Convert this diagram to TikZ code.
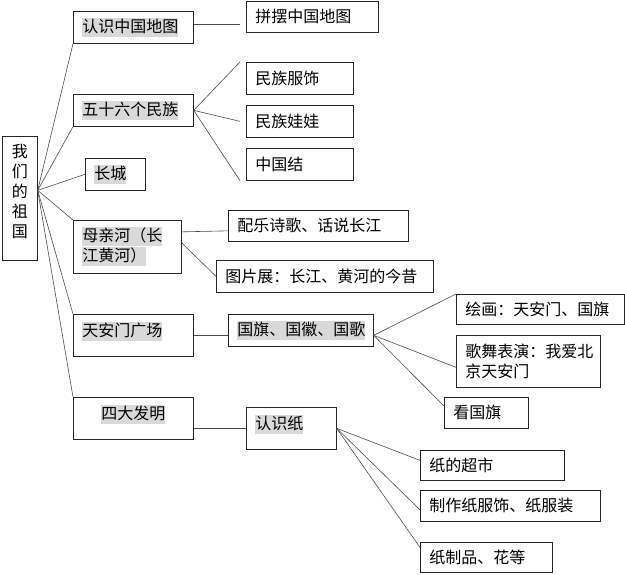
\documentclass[tikz,border=0pt]{standalone}
\usepackage{fontspec}
\setmainfont{Noto Sans CJK SC}
\definecolor{hlgray}{RGB}{217,217,217}
\newcommand{\hl}[1]{{\setlength{\fboxsep}{0pt}\colorbox{hlgray}{\rule[-4.5pt]{0pt}{19pt}#1}}}
\begin{document}
\begin{tikzpicture}[x=1pt,y=-1pt,
  font=\fontsize{16}{20}\selectfont,
  box/.style={draw=black!85,line width=.7pt,anchor=north west,align=left,
    inner xsep=9pt,inner ysep=0pt},
  link/.style={draw=black!70,line width=.6pt}]
  \useasboundingbox (0,0) rectangle (625,575);

  \node[box,align=center,inner xsep=0pt,text width=35pt,minimum height=124pt,text depth=96pt] (root) at (2,136) {我\\们\\的\\祖\\国};

  \node[box,text width=102pt,minimum height=32pt] (l1map) at (73,11) {\hl{认识中国地图}};
  \node[box,text width=102pt,minimum height=32pt] (l1mz) at (73,94) {\hl{五十六个民族}};
  \node[box,text width=42pt,minimum height=32pt] (l1cc) at (85,158) {\hl{长城}};
  \node[box,text width=90pt,minimum height=53pt] (l1mq) at (73,220) {\hl{母亲河（长}\\\hl{江黄河）}};
  \node[box,text width=102pt,minimum height=42pt,text depth=12pt] (l1tam) at (73,314) {\hl{天安门广场}};
  \node[box,align=center,text width=102pt,minimum height=42pt,text depth=12pt] (l1sd) at (73,397) {\hl{四大发明}};

  \node[box,text width=114pt,minimum height=31pt] (l2map) at (246,1) {拼摆中国地图};
  \node[box,text width=89pt,minimum height=32pt] (l2fs) at (246,62) {民族服饰};
  \node[box,text width=89pt,minimum height=32pt] (l2ww) at (246,105) {民族娃娃};
  \node[box,text width=89pt,minimum height=32pt] (l2zgj) at (246,148) {中国结};
  \node[box,text width=162pt,minimum height=31pt] (l2pl) at (228,210) {配乐诗歌、话说长江};
  \node[box,text width=199pt,minimum height=32pt] (l2tp) at (216,260) {图片展：长江、黄河的今昔};
  \node[box,text width=127pt,minimum height=32pt] (l2gq) at (228,314) {\hl{国旗、国徽、国歌}};
  \node[box,text width=72pt,minimum height=42pt,text depth=12pt] (l2rsz) at (246,407) {\hl{认识纸}};

  \node[box,text width=150pt,minimum height=30pt] (l3hh) at (456,294) {绘画：天安门、国旗};
  \node[box,text width=126pt,minimum height=52pt] (l3gw) at (456,335) {歌舞表演：我爱北\\京天安门};
  \node[box,text width=66pt,minimum height=31pt] (l3kgq) at (444,397) {看国旗};
  \node[box,text width=126pt,minimum height=30pt] (l3cs) at (420,450) {纸的超市};
  \node[box,text width=162pt,minimum height=31pt] (l3zz) at (420,490) {制作纸服饰、纸服装};
  \node[box,text width=114pt,minimum height=30pt] (l3zp) at (420,542) {纸制品、花等};

  \coordinate (hub) at ([yshift=8pt]root.east);
  \foreach \n/\a in {l1map/south west,l1mz/south west,l1cc/west,l1mq/north west,l1tam/north west,l1sd/north west}
    \draw[link] (hub) -- (\n.\a);

  \draw[link] ([yshift=3pt]l1map.east) -- ([xshift=-6pt,yshift=-7.5pt]l2map.west);
  \foreach \n/\a in {l2fs/north west,l2ww/west,l2zgj/south west}
    \draw[link] (l1mz.east) -- ([xshift=-6pt]\n.\a);

  \draw[link] ([yshift=15pt]l1mq.east) -- ([yshift=-5pt]l2pl.west);
  \draw[link] ([yshift=4pt]l1mq.east) -- (l2tp.west);

  \draw[link] (l1tam.east) -- ([yshift=-5pt]l2gq.west);
  \coordinate (gq) at ([yshift=-5pt]l2gq.east);
  \draw[link] (gq) -- (l3hh.north west);
  \draw[link] (gq) -- ([yshift=-6pt]l3gw.west);
  \draw[link] (gq) -- ([yshift=-9pt]l3kgq.north west);

  \draw[link] ([yshift=-10pt]l1sd.east) -- (l2rsz.west);
  \foreach \n/\s in {l3cs/5pt,l3zz/-4pt,l3zp/10pt}
    \draw[link] (l2rsz.east) -- ([yshift=\s]\n.west);
\end{tikzpicture}
\end{document}
